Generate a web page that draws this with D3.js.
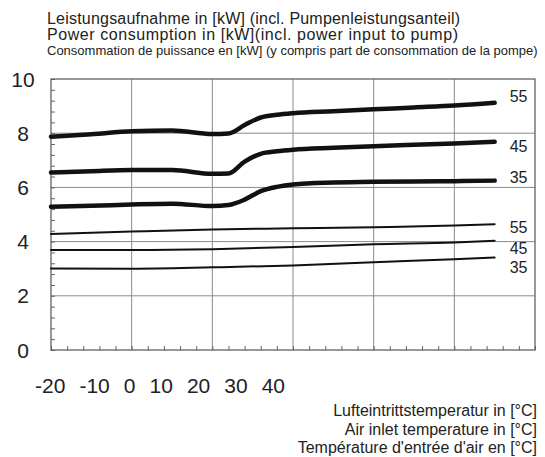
<!DOCTYPE html>
<html lang="de">
<head>
<meta charset="UTF-8">
<title>Leistungsaufnahme</title>
<style>
  body { margin: 0; background: #fff; }
  svg { display: block; font-family: "Liberation Sans", Arial, sans-serif; }
</style>
</head>
<body>
<div id="chart"></div>
<script src="https://d3js.org/d3.v7.min.js"></script>
<script>

// temperatures (°C)
const tempsThick = [-20, -15, -10, -5, 0, 2, 4, 6, 8, 10, 15, 20, 25, 30, 35];
const tempsThin  = [-20, -10, 0, 10, 20, 30, 35];

// heavy curves (kW)
const thick55 = [7.87, 7.96, 8.07, 8.10, 7.97, 7.99, 8.30, 8.58, 8.68, 8.74, 8.81, 8.88, 8.95, 9.02, 9.12];
const thick45 = [6.55, 6.60, 6.64, 6.64, 6.50, 6.51, 6.95, 7.24, 7.33, 7.39, 7.46, 7.52, 7.57, 7.62, 7.68];
const thick35 = [5.29, 5.32, 5.37, 5.40, 5.31, 5.35, 5.55, 5.86, 6.02, 6.11, 6.18, 6.21, 6.22, 6.23, 6.25];

// light curves (kW)
const thin55 = [4.28, 4.37, 4.45, 4.49, 4.53, 4.59, 4.64];
const thin45 = [3.69, 3.69, 3.72, 3.80, 3.90, 3.97, 4.03];
const thin35 = [3.01, 3.00, 3.05, 3.12, 3.24, 3.35, 3.41];

// curve end labels and the level (kW) they sit at
const curveLabels = ['55', '45', '35', '55', '45', '35'];
const labelLevels = [9.35, 7.52, 6.37, 4.53, 3.75, 3.07];

const xTickLabels = ['-20', '-10', '0', '10', '20', '30', '40'];
const yTicks = [0, 2, 4, 6, 8, 10];

const titleLines = [
  'Leistungsaufnahme in [kW] (incl. Pumpenleistungsanteil)',
  'Power consumption in [kW](incl. power input to pump)',
  'Consommation de puissance en [kW] (y compris part de consommation de la pompe)'
];
const xTitleLines = [
  'Lufteintrittstemperatur in [°C]',
  'Air inlet temperature in [°C]',
  'Température d\'entrée d\'air en [°C]'
];

let W = 545, H = 457;
let margin = { top: 79, right: 10, bottom: 107, left: 51 };

let svg = d3.select('#chart').append('svg')
  .attr('width', W)
  .attr('height', H);

let x = d3.scaleLinear().domain([-20, 40]).range([margin.left, W - margin.right]);
let y = d3.scaleLinear().domain([0, 10]).range([H - margin.bottom, margin.top]);

// grid
svg.append('g')
  .selectAll('line')
  .data(d3.range(-10, 40, 10))
  .join('line')
  .attr('x1', d => x(d)).attr('x2', d => x(d))
  .attr('y1', y(0)).attr('y2', y(10))
  .attr('stroke', '#8a8a8a').attr('stroke-width', 1);

svg.append('g')
  .selectAll('line')
  .data([2, 4, 6, 8])
  .join('line')
  .attr('x1', x(-20)).attr('x2', x(40))
  .attr('y1', d => y(d)).attr('y2', d => y(d))
  .attr('stroke', '#8a8a8a').attr('stroke-width', 1);

// minor ticks, left and bottom
let axL = d3.axisRight(y).tickValues(d3.range(0, 10.01, 0.4)).tickSize(4).tickFormat('');
svg.append('g').attr('transform', `translate(${x(-20)},0)`).call(axL)
  .call(g => g.select('.domain').remove())
  .selectAll('line').attr('stroke', '#666');

let axB = d3.axisTop(x).tickValues(d3.range(-20, 40.01, 2)).tickSize(4).tickFormat('');
svg.append('g').attr('transform', `translate(0,${y(0)})`).call(axB)
  .call(g => g.select('.domain').remove())
  .selectAll('line').attr('stroke', '#666');

// frame
svg.append('rect')
  .attr('x', x(-20)).attr('y', y(10))
  .attr('width', x(40) - x(-20)).attr('height', y(0) - y(10))
  .attr('fill', 'none').attr('stroke', '#555').attr('stroke-width', 1.2);

// curves
let line = d3.line().curve(d3.curveMonotoneX);

function draw(temps, vals, w) {
  svg.append('path')
    .attr('d', line(temps.map((t, i) => [x(t), y(vals[i])])))
    .attr('fill', 'none')
    .attr('stroke', '#111')
    .attr('stroke-width', w)
    .attr('stroke-linecap', 'round');
}
[thick55, thick45, thick35].forEach(v => draw(tempsThick, v, 4.5));
[thin55, thin45, thin35].forEach(v => draw(tempsThin, v, 2));

// curve labels
svg.append('g')
  .selectAll('text')
  .data(curveLabels)
  .join('text')
  .attr('x', x(35) + 15)
  .attr('y', (d, i) => y(labelLevels[i]))
  .attr('dy', '0.36em')
  .attr('font-size', 16)
  .attr('fill', '#222')
  .text(d => d);

// y labels
svg.append('g')
  .selectAll('text')
  .data(yTicks)
  .join('text')
  .attr('x', 23)
  .attr('y', d => y(d))
  .attr('dy', '0.36em')
  .attr('text-anchor', 'middle')
  .attr('font-size', 21)
  .attr('fill', '#222')
  .text(d => d);

// x labels (squeezed together as in the original)
svg.append('text')
  .attr('x', 35)
  .attr('y', 393)
  .attr('font-size', 21)
  .attr('word-spacing', 8.2)
  .attr('fill', '#222')
  .attr('xml:space', 'preserve')
  .text(xTickLabels.join(' '));

// titles
let titles = svg.append('g');
titleLines.forEach((t, i) => {
  let el = titles.append('text')
    .attr('x', 47)
    .attr('y', [24, 40, 54.5][i])
    .attr('font-size', i < 2 ? 16 : 13)
    .attr('fill', '#222')
    .text(t);
  if (i < 2) el.attr('textLength', [413, 411][i]).attr('lengthAdjust', 'spacing');
});

svg.append('g')
  .selectAll('text')
  .data(xTitleLines)
  .join('text')
  .attr('x', 537)
  .attr('y', (d, i) => 416 + i * 18.5)
  .attr('text-anchor', 'end')
  .attr('font-size', 16)
  .attr('fill', '#222')
  .text(d => d);

</script>
</body>
</html>
